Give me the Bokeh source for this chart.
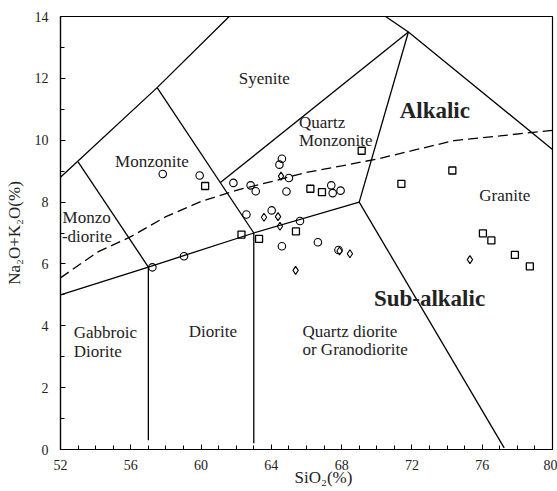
from bokeh.plotting import figure
from bokeh.models import Label, FixedTicker
from bokeh.embed import file_html
from bokeh.resources import INLINE

# ---- data: sample points (SiO2, Na2O+K2O) ----
circle_x = [57.82, 59.92, 61.84, 62.82, 63.11, 62.58, 59.03, 57.23, 64.6, 64.46,
            65.0, 64.86, 67.41, 67.49, 67.94, 64.02, 65.63, 64.6, 66.65, 67.82]
circle_y = [8.91, 8.86, 8.62, 8.54, 8.35, 7.6, 6.25, 5.89, 9.4, 9.21,
            8.78, 8.34, 8.54, 8.29, 8.37, 7.73, 7.39, 6.57, 6.7, 6.45]
square_x = [60.23, 62.3, 63.3, 65.4, 66.22, 66.88, 69.14, 71.4, 74.3, 76.04, 76.52, 77.86, 78.71]
square_y = [8.52, 6.95, 6.81, 7.05, 8.43, 8.32, 9.66, 8.59, 9.02, 6.99, 6.76, 6.29, 5.92]
diamond_x = [64.55, 63.58, 64.38, 64.49, 67.88, 68.47, 65.38, 75.3]
diamond_y = [8.84, 7.51, 7.53, 7.22, 6.42, 6.33, 5.79, 6.14]

# ---- field boundaries of the classification diagram ----
boundary_xs = [
    [52, 57.5, 61.6],
    [53, 57],
    [57.5, 63],
    [52, 57, 63, 69],
    [57, 57],
    [63, 63],
    [69, 77.25],
    [69, 71.8],
    [61.1, 71.8],
    [70.5, 71.8, 80],
]
boundary_ys = [
    [8.8, 11.7, 14],
    [9.3, 5.9],
    [11.7, 7.0],
    [5.0, 5.9, 7.0, 8.0],
    [0.3, 5.9],
    [0.2, 7.0],
    [8.0, 0.05],
    [8.0, 13.5],
    [8.63, 13.5],
    [14, 13.5, 9.7],
]
# alkalic / sub-alkalic divide
divide_x = [52, 54.1, 56, 58, 60, 62, 64, 66, 68, 70, 72, 74.4, 77, 80]
divide_y = [5.55, 6.38, 6.88, 7.53, 8.02, 8.38, 8.66, 8.96, 9.17, 9.39, 9.66, 9.99, 10.14, 10.32]

x_ticks = [52, 56, 60, 64, 68, 72, 76, 80]
y_ticks = [0, 2, 4, 6, 8, 10, 12, 14]

FONT = "Liberation Serif"

p = figure(width=557, height=491, x_range=(52, 80), y_range=(0, 14),
           output_backend="svg", toolbar_location=None,
           min_border_left=60, min_border_right=5, min_border_top=16, min_border_bottom=42)
p.xgrid.visible = False
p.ygrid.visible = False
p.outline_line_color = "black"
p.outline_line_width = 1.2
p.background_fill_color = "white"
p.border_fill_color = "white"

for xs, ys in zip(boundary_xs, boundary_ys):
    p.line(xs, ys, line_color="black", line_width=1.3)
p.line(divide_x, divide_y, line_color="black", line_width=1.3, line_dash="10 5")

p.scatter(circle_x, circle_y, marker="circle", size=7.5, fill_color=None,
          line_color="black", line_width=1.1)
p.scatter(square_x, square_y, marker="square", size=7, fill_color=None,
          line_color="black", line_width=1.3)
p.scatter(diamond_x, diamond_y, marker="diamond", size=8, fill_color=None,
          line_color="black", line_width=1.1)

# axes
p.xaxis.ticker = FixedTicker(ticks=x_ticks, minor_ticks=list(range(52, 81)))
p.yaxis.ticker = FixedTicker(ticks=y_ticks, minor_ticks=list(range(0, 15)))
for ax in (p.xaxis[0], p.yaxis[0]):
    ax.axis_line_color = "black"
    ax.axis_line_width = 1.2
    ax.major_tick_in = 5
    ax.major_tick_out = 0
    ax.minor_tick_in = 4
    ax.minor_tick_out = 0
    ax.major_tick_line_color = "black"
    ax.minor_tick_line_color = "black"
    ax.major_label_text_font = FONT
    ax.major_label_text_font_size = "14px"
    ax.major_label_text_color = "#222222"
    ax.major_label_standoff = 12
    ax.axis_label_text_font = FONT
    ax.axis_label_text_font_size = "17px"
    ax.axis_label_text_font_style = "normal"
    ax.axis_label_text_color = "#222222"
p.xaxis.major_label_standoff = 10
p.yaxis.axis_label = "Na₂O+K₂O(%)"
p.yaxis.axis_label_standoff = 8
# the reference's x title sits right of centre: pad it with no-break spaces
p.xaxis.axis_label = "\u00a0" * 8 + "SiO₂(%)"
p.xaxis.axis_label_standoff = -5

def lab(x, y, t, size="17px", style="normal", align="left"):
    p.add_layout(Label(x=x, y=y, text=t, text_font=FONT, text_font_size=size,
                       text_font_style=style, text_color="#222222",
                       text_align=align, text_baseline="middle"))

lab(63.6, 12.0, "Syenite", align="center")
lab(57.2, 9.31, "Monzonite", align="center")
lab(52.12, 7.5, "Monzo")
lab(52.08, 6.9, "-diorite")
lab(52.75, 3.78, "Gabbroic")
lab(52.75, 3.18, "Diorite")
lab(60.67, 3.83, "Diorite", align="center")
lab(65.57, 10.58, "Quartz")
lab(65.57, 9.99, "Monzonite")
lab(73.3, 10.96, "Alkalic", size="23px", style="bold", align="center")
lab(77.28, 8.21, "Granite", align="center")
lab(73.0, 4.87, "Sub-alkalic", size="23px", style="bold", align="center")
lab(65.77, 3.82, "Quartz diorite")
lab(65.77, 3.22, "or Granodiorite")

open("out.html", "w").write(file_html(p, INLINE))
